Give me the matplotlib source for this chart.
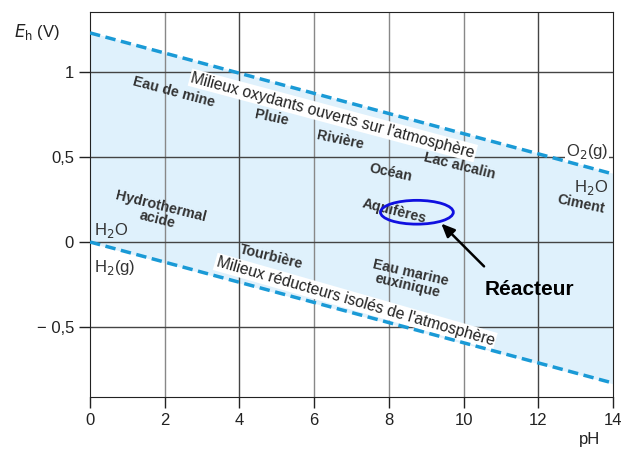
import numpy as np
import matplotlib.pyplot as plt
from matplotlib.patches import Ellipse

plt.rcParams["font.family"] = ["Liberation Sans", "DejaVu Sans"]

# ---------------------------------------------------------
# Data
# ---------------------------------------------------------
ph_limits = [0, 14]
eh_upper = [1.23, 0.40]      # O2 / H2O limit
eh_lower = [0.0, -0.83]      # H2O / H2 limit

x_ticks = [0, 2, 4, 6, 8, 10, 12, 14]
y_ticks = [-0.5, 0, 0.5, 1]
y_ticklabels = ["\u2212 0,5", "0", "0,5", "1"]

env_names = ["Eau de mine", "Pluie", "Rivière", "Océan", "Lac alcalin",
             "Aquifères", "Ciment", "Hydrothermal\nacide", "Tourbière",
             "Eau marine\neuxinique"]
env_ph = [2.25, 4.85, 6.7, 8.05, 9.9, 8.15, 13.15, 1.85, 4.85, 8.55]
env_eh = [0.88, 0.73, 0.60, 0.41, 0.45, 0.18, 0.22, 0.17, -0.09, -0.22]
env_rot = [-15, -12, -12, -12, -14, -14, -12, -14, -14, -13]

reactor_ph = 8.75
reactor_eh = 0.175

# ---------------------------------------------------------
# Figure
# ---------------------------------------------------------
fig = plt.figure(figsize=(6.23, 4.51), dpi=100)
ax = fig.add_axes([0.1445, 0.1197, 0.8395, 0.8537])

blue = "#1a9ad6"
ax.fill_between(ph_limits, eh_lower, eh_upper, color="#dff1fc", zorder=0)

for x in x_ticks[1:-1]:
    ax.axvline(x, color="#444" if x in (4, 12) else "#888", lw=1, zorder=1)
for y in y_ticks:
    ax.axhline(y, color="#444", lw=1, zorder=1)

ax.plot(ph_limits, eh_upper, ls=(0, (3, 1.6)), color=blue, lw=2.5, zorder=4)
ax.plot(ph_limits, eh_lower, ls=(0, (3, 1.6)), color=blue, lw=2.5, zorder=4)

ax.set_xlim(0, 14)
ax.set_ylim(-0.912, 1.353)
ax.set_xticks(x_ticks)
ax.set_yticks(y_ticks)
ax.set_yticklabels(y_ticklabels)
ax.tick_params(direction="out", length=8, width=1, labelsize=12, colors="#222")
for s in ax.spines.values():
    s.set_color("#222")

box = dict(facecolor="white", edgecolor="none", pad=1.0)
ax.text(6.5, 0.745, "Milieux oxydants ouverts sur l'atmosphère", rotation=-15,
        ha="center", va="center", fontsize=11.3, color="#222", bbox=box, zorder=3)
ax.text(7.1, -0.35, "Milieux réducteurs isolés de l'atmosphère", rotation=-16,
        ha="center", va="center", fontsize=11.3, color="#222", bbox=box, zorder=3)

for name, x, y, r in zip(env_names, env_ph, env_eh, env_rot):
    ax.text(x, y, name, rotation=r, ha="center", va="center", fontsize=10.3,
            fontweight="bold", color="#333", linespacing=0.95, zorder=5)

ax.text(13.3, 0.53, "O$_2$(g)", ha="center", va="center", fontsize=12,
        color="#333", bbox=dict(facecolor="white", edgecolor="none", pad=0.5), zorder=3)
ax.text(13.4, 0.32, "H$_2$O", ha="center", va="center", fontsize=12, color="#333")
ax.text(0.1, 0.07, "H$_2$O", ha="left", va="center", fontsize=12, color="#333")
ax.text(0.1, -0.15, "H$_2$(g)", ha="left", va="center", fontsize=12, color="#333")

ell = Ellipse((reactor_ph, reactor_eh), 1.95, 0.14, fill=False,
              edgecolor="#1010e0", lw=2, zorder=6)
ax.add_patch(ell)
ax.annotate("", xy=(9.35, 0.12), xytext=(10.6, -0.155),
            arrowprops=dict(arrowstyle="-|>,head_width=0.35,head_length=0.8",
                            color="black", lw=1.8), zorder=6)
ax.text(11.75, -0.28, "Réacteur", ha="center", va="center", fontsize=15,
        fontweight="bold", color="black", zorder=6)

fig.text(0.022, 0.93, "$E_\\mathrm{h}$ (V)", fontsize=12, color="#222",
         ha="left", va="center")
fig.text(0.947, 0.025, "pH", fontsize=12, color="#222", ha="center", va="center")

fig.savefig("out.png", dpi=100)
